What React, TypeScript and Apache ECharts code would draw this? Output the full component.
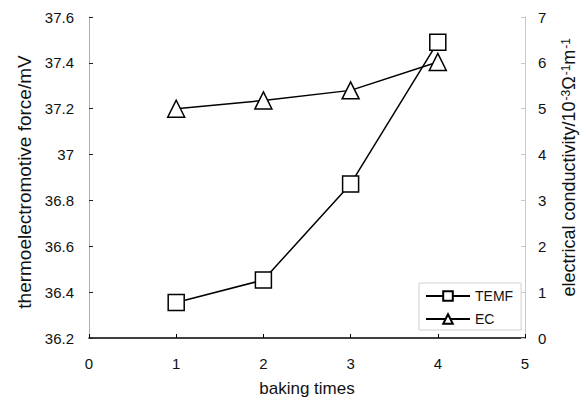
import React, { useEffect, useRef } from "react";
import * as echarts from "echarts";

const bakingTimes = [1, 2, 3, 4];
const temfValues = [36.355, 36.453, 36.872, 37.49];
const ecValues = [5.0, 5.18, 5.4, 6.02];

const ecAxisName = "electrical conductivity/10{sup|-3}Ω{sup|-1}m{sup|-1}";

export default function App() {
  const ref = useRef<HTMLDivElement>(null);
  useEffect(() => {
    if (!ref.current) return;
    const chart = echarts.init(ref.current, null, { renderer: "svg" });
    const font = "Liberation Sans, Arial, sans-serif";
    chart.setOption({
      animation: false,
      backgroundColor: "#ffffff",
      textStyle: { fontFamily: font },
      grid: { left: 89, right: 62, top: 17, bottom: 65, containLabel: false, outerBoundsMode: "none" },
      legend: {
        orient: "vertical",
        left: 419,
        top: 283,
        width: 101,
        height: 50,
        padding: [6, 8, 4, 6],
        itemGap: 9,
        itemWidth: 44,
        itemHeight: 12,
        borderColor: "#d0d0d0",
        borderWidth: 1,
        backgroundColor: "#ffffff",
        textStyle: { fontSize: 14, color: "#111", fontFamily: font },
        data: ["TEMF", "EC"],
      },
      graphic: [
        {
          type: "text",
          x: 569,
          y: 38,
          rotation: Math.PI / 2,
          style: {
            text: ecAxisName,
            fontSize: 18,
            fontFamily: font,
            fill: "#111",
            align: "right",
            verticalAlign: "middle",
            rich: {
              sup: { fontSize: 12, fontFamily: font, fill: "#111", verticalAlign: "top", padding: [0, 0, 6, 1] },
            },
          },
        },
      ],
      xAxis: {
        type: "value",
        min: 0,
        max: 5,
        interval: 1,
        name: "baking times",
        nameLocation: "middle",
        nameGap: 42,
        nameTextStyle: { fontSize: 17, color: "#111", fontFamily: font },
        axisLine: { lineStyle: { color: "#000", width: 1.5 } },
        axisTick: { inside: true, length: 4, lineStyle: { color: "#000" } },
        axisLabel: { fontSize: 15, color: "#111", margin: 18 },
        splitLine: { show: false },
      },
      yAxis: [
        {
          type: "value",
          min: 36.2,
          max: 37.6,
          interval: 0.2,
          name: "thermoelectromotive force/mV",
          nameLocation: "middle",
          nameRotate: 90,
          nameGap: 53,
          nameTextStyle: {
            fontSize: 19,
            color: "#111",
            fontFamily: font,
            padding: [0, 9, 0, 0],
          },
          axisLine: { show: true, lineStyle: { color: "#b0b0b0", width: 1 } },
          axisTick: { inside: true, length: 4, lineStyle: { color: "#222" } },
          axisLabel: {
            fontSize: 15,
            color: "#111",
            margin: 15,
            formatter: (v: number) => String(Math.round(v * 10) / 10),
          },
          splitLine: { show: false },
        },
        {
          type: "value",
          min: 0,
          max: 7,
          interval: 1,
          position: "right",
          axisLine: { show: true, lineStyle: { color: "#c8c8c8", width: 1 } },
          axisTick: { inside: true, length: 4, lineStyle: { color: "#c8c8c8" } },
          axisLabel: { fontSize: 15, color: "#111", margin: 13 },
          splitLine: { show: false },
        },
      ],
      series: [
        {
          name: "TEMF",
          type: "line",
          yAxisIndex: 0,
          data: bakingTimes.map((x, i) => [x, temfValues[i]]),
          symbol: "rect",
          symbolSize: 16,
          lineStyle: { color: "#000", width: 1.5 },
          itemStyle: { color: "#fff", borderColor: "#000", borderWidth: 1.5 },
          z: 3,
        },
        {
          name: "EC",
          type: "line",
          yAxisIndex: 1,
          data: bakingTimes.map((x, i) => [x, ecValues[i]]),
          symbol: "triangle",
          symbolSize: 17,
          lineStyle: { color: "#000", width: 1.5 },
          itemStyle: { color: "#fff", borderColor: "#000", borderWidth: 1.5 },
          z: 2,
        },
      ],
    });
    return () => chart.dispose();
  }, []);
  return <div ref={ref} style={{ width: 587, height: 403, position: "absolute", left: 0, top: 0 }} />;
}
